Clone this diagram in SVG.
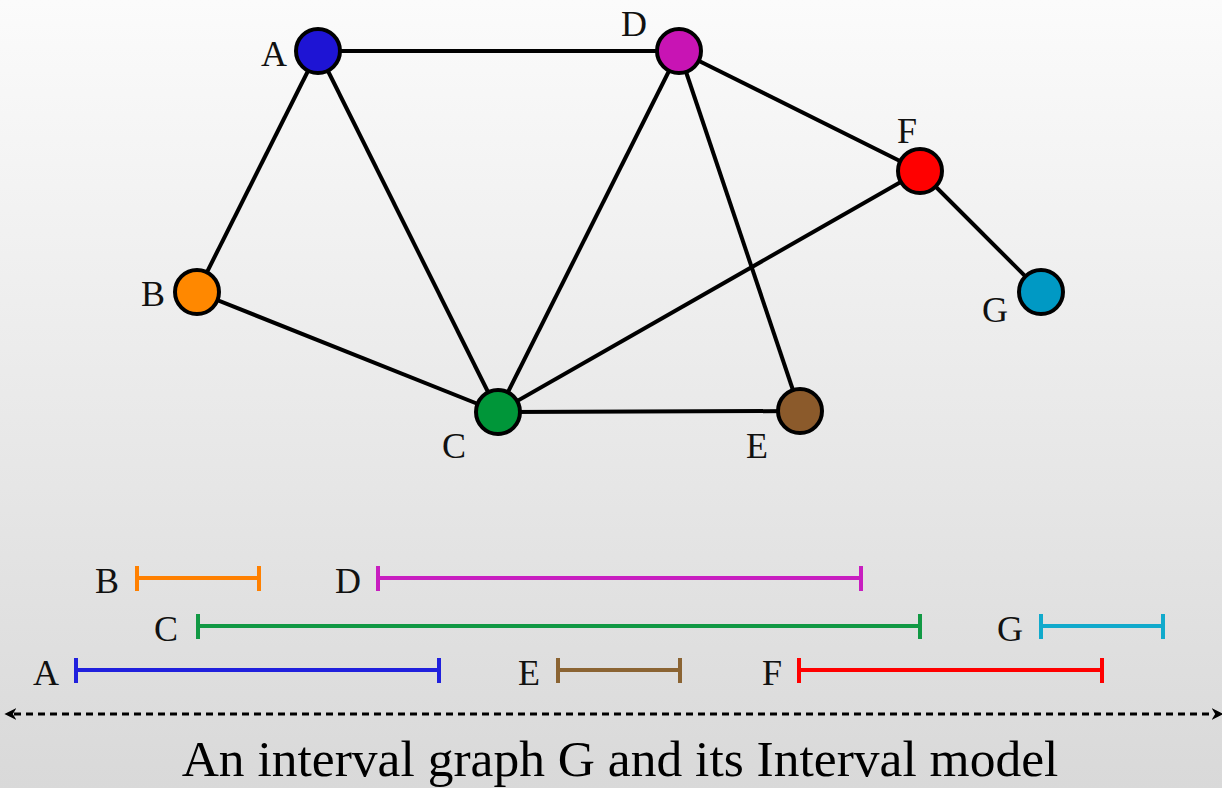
<svg xmlns="http://www.w3.org/2000/svg" width="1222" height="788" viewBox="0 0 1222 788">
<defs>
<linearGradient id="bg" x1="0" y1="0" x2="0" y2="1">
<stop offset="0" stop-color="#fbfbfb"/>
<stop offset="1" stop-color="#d9d9d9"/>
</linearGradient>
<marker id="ah" viewBox="0 0 10 10" refX="2" refY="5" markerWidth="4" markerHeight="4" orient="auto-start-reverse" markerUnits="strokeWidth">
<path d="M0,0 L10,5 L0,10 L3,5 Z" fill="#000"/>
</marker>
</defs>
<style>
.edge{stroke:#000;stroke-width:4;fill:none}
.node{stroke:#000;stroke-width:4}
.lbl{font-family:"Liberation Serif","Times New Roman",serif;font-size:36px;fill:#111}
.iv{stroke-width:4;fill:none}
.cap{font-family:"Liberation Serif","Times New Roman",serif;font-size:51.5px;fill:#000}
</style>
<rect width="1222" height="788" fill="url(#bg)"/>
<g id="connectors">
<line class="edge" x1="318" y1="51" x2="679" y2="51"/>
<line class="edge" x1="318" y1="51" x2="197" y2="292"/>
<line class="edge" x1="318" y1="51" x2="498" y2="412"/>
<line class="edge" x1="197" y1="292" x2="498" y2="412"/>
<line class="edge" x1="679" y1="51" x2="498" y2="412"/>
<line class="edge" x1="920" y1="171" x2="498" y2="412"/>
<line class="edge" x1="498" y1="412" x2="800" y2="411"/>
<line class="edge" x1="679" y1="51" x2="800" y2="411"/>
<line class="edge" x1="679" y1="51" x2="920" y2="171"/>
<line class="edge" x1="920" y1="171" x2="1041" y2="292"/>
</g>
<g id="node-A"><circle class="node" cx="318" cy="51" r="22" fill="#1e14d4"/><text class="lbl" x="261" y="66">A</text></g>
<g id="node-D"><circle class="node" cx="679" cy="51" r="22" fill="#c814b4"/><text class="lbl" x="621" y="36">D</text></g>
<g id="node-F"><circle class="node" cx="920" cy="171" r="22" fill="#ff0000"/><text class="lbl" x="897" y="143">F</text></g>
<g id="node-B"><circle class="node" cx="197" cy="292" r="22" fill="#ff8800"/><text class="lbl" x="141" y="306">B</text></g>
<g id="node-G"><circle class="node" cx="1041" cy="292" r="22" fill="#0099c4"/><text class="lbl" x="982" y="322">G</text></g>
<g id="node-C"><circle class="node" cx="498" cy="412" r="22" fill="#009639"/><text class="lbl" x="442" y="458">C</text></g>
<g id="node-E"><circle class="node" cx="800" cy="411" r="22" fill="#8b5a2b"/><text class="lbl" x="746" y="458">E</text></g>
<g id="interval-B"><path class="iv" stroke="#ff8000" d="M137,578 H259 M137,566 V591 M259,566 V591"/><text class="lbl" x="95" y="593">B</text></g>
<g id="interval-D"><path class="iv" stroke="#c81ec0" d="M378,578 H861 M378,566 V591 M861,566 V591"/><text class="lbl" x="335" y="593">D</text></g>
<g id="interval-C"><path class="iv" stroke="#119944" d="M198,626 H920 M198,614 V639 M920,614 V639"/><text class="lbl" x="154" y="641">C</text></g>
<g id="interval-G"><path class="iv" stroke="#11aacc" d="M1041,626 H1163 M1041,614 V639 M1163,614 V639"/><text class="lbl" x="997" y="641">G</text></g>
<g id="interval-A"><path class="iv" stroke="#2020dd" d="M76,670 H439 M76,658 V683 M439,658 V683"/><text class="lbl" x="33" y="685">A</text></g>
<g id="interval-E"><path class="iv" stroke="#8b6433" d="M558,670 H680 M558,658 V683 M680,658 V683"/><text class="lbl" x="518" y="685">E</text></g>
<g id="interval-F"><path class="iv" stroke="#ff0000" d="M799,670 H1102 M799,658 V683 M1102,658 V683"/><text class="lbl" x="762" y="685">F</text></g>
<g id="axis"><line x1="14" y1="714" x2="1214" y2="714" stroke="#000" stroke-width="3" stroke-dasharray="7,5" marker-start="url(#ah)" marker-end="url(#ah)"/></g>
<text class="cap" x="620" y="776" text-anchor="middle">An interval graph G and its Interval model</text>
</svg>
